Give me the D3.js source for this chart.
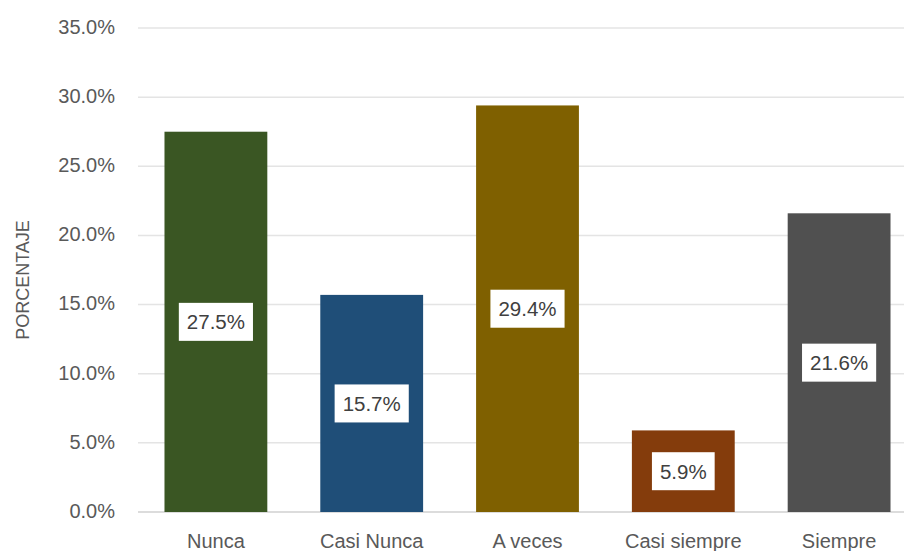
<!DOCTYPE html>
<html>
<head>
<meta charset="utf-8">
<script src="https://cdn.jsdelivr.net/npm/d3@7"></script>
<style>
  html, body { margin: 0; padding: 0; background: #fff; }
  svg { display: block; }
</style>
</head>
<body>
<svg id="chart" width="904" height="551"></svg>
<script>
const categories = ["Nunca", "Casi Nunca", "A veces", "Casi siempre", "Siempre"];
const values = [27.5, 15.7, 29.4, 5.9, 21.6];
const barColors = ["#3a5623", "#1f4e78", "#7f6000", "#843c0c", "#505050"];
const yTicks = [0, 5, 10, 15, 20, 25, 30, 35];
const yTitle = "PORCENTAJE";

const svg = d3.select("#chart");
const font = "'Liberation Sans', Arial, sans-serif";

const x = d3.scaleBand().domain(categories).range([138, 917]).paddingInner(0.34).paddingOuter(0.17);
const y = d3.scaleLinear().domain([0, 35]).range([512, 28]);

// gridlines
svg.append("g").selectAll("line").data(yTicks).join("line")
  .attr("x1", 138).attr("x2", 904)
  .attr("y1", d => y(d)).attr("y2", d => y(d))
  .attr("stroke", d => d === 0 ? "#d0d0d0" : "#e4e4e4")
  .attr("stroke-width", 1.5);

// y axis labels
const yAxis = d3.axisLeft(y).tickValues(yTicks).tickFormat(d => d3.format(".1f")(d) + "%").tickSize(0).tickPadding(0);
const yg = svg.append("g").attr("transform", "translate(115,-1)").call(yAxis);
yg.select(".domain").remove();
yg.selectAll("text").attr("font-family", font).attr("font-size", 20).attr("fill", "#595959");

// x axis labels
const xAxis = d3.axisBottom(x).tickSize(0).tickPadding(0);
const xg = svg.append("g").attr("transform", "translate(0,548)").call(xAxis);
xg.select(".domain").remove();
xg.selectAll("text").attr("font-family", font).attr("font-size", 20).attr("fill", "#595959").attr("dy", null);

// bars
svg.append("g").selectAll("rect").data(values).join("rect")
  .attr("x", (d, i) => x(categories[i]))
  .attr("width", x.bandwidth())
  .attr("y", d => y(d))
  .attr("height", d => y(0) - y(d))
  .attr("fill", (d, i) => barColors[i]);

// data labels
const lg = svg.append("g");
values.forEach((v, i) => {
  const cx = x(categories[i]) + x.bandwidth() / 2;
  const cy = (y(v) + y(0)) / 2;
  const g = lg.append("g");
  const rect = g.append("rect").attr("fill", "#fff");
  const t = g.append("text")
    .attr("x", cx).attr("y", cy)
    .attr("text-anchor", "middle").attr("dominant-baseline", "central")
    .attr("font-family", font).attr("font-size", 20.5).attr("fill", "#404040")
    .text(d3.format(".1f")(v) + "%");
  const bb = t.node().getBBox();
  rect.attr("x", cx - bb.width / 2 - 8).attr("width", bb.width + 16)
      .attr("y", cy - 19).attr("height", 38);
});

// y title
svg.append("text")
  .attr("transform", "translate(29,280) rotate(-90)")
  .attr("text-anchor", "middle")
  .attr("font-family", font).attr("font-size", 18).attr("fill", "#595959")
  .text(yTitle);
</script>
</body>
</html>
